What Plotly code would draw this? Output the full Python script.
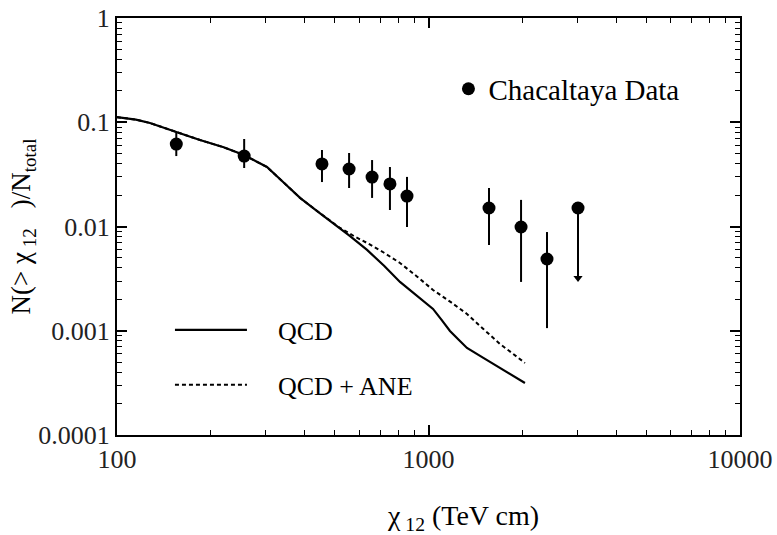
import plotly.graph_objects as go

# Chacaltaya data points (x in TeV cm, y = N(>x)/Ntotal)
data_x = [155, 256, 455, 556, 659, 752, 853, 1564, 1982, 2401, 3020]
data_y = [0.0618, 0.0474, 0.0398, 0.0356, 0.0298, 0.0256, 0.0196, 0.01505, 0.00989, 0.00488, 0.01505]
err_hi = [0.0806, 0.0691, 0.0542, 0.0507, 0.0434, 0.0372, 0.0299, 0.0234, 0.0180, 0.00885, 0.01505]
err_lo = [0.0474, 0.0364, 0.0267, 0.0234, 0.0188, 0.0144, 0.00989, 0.00664, 0.00294, 0.00106, 0.00321]

# upper-limit arrow for last point
limit_x = [3020]
limit_y = [0.00321]

# QCD curve
qcd_x = [100, 115, 127.6, 140, 154.7, 170, 184.7, 220, 255.7, 303, 340, 387, 440, 494, 560, 635, 720,
         810, 920, 1034, 1100, 1172, 1250, 1329, 1500, 1696, 1870, 2040]
qcd_y = [0.112, 0.106, 0.0984, 0.090, 0.0806, 0.0735, 0.0676, 0.0575, 0.0485, 0.0372, 0.0270, 0.0188,
         0.0140, 0.0108, 0.0081, 0.00596, 0.0042, 0.00294, 0.00215, 0.00162, 0.00128, 0.000995,
         0.00082, 0.000684, 0.00055, 0.000440, 0.000370, 0.000315]

# QCD + ANE curve
ane_x = [100, 115, 127.6, 140, 154.7, 170, 184.7, 220, 255.7, 303, 340, 387, 440, 494, 520, 580, 635,
         720, 810, 920, 1034, 1180, 1329, 1500, 1696, 1870, 2040]
ane_y = [0.112, 0.106, 0.0984, 0.090, 0.0806, 0.0735, 0.0676, 0.0575, 0.0485, 0.0372, 0.0270, 0.0188,
         0.0140, 0.0108, 0.00968, 0.0080, 0.00695, 0.0056, 0.00447, 0.0033, 0.00246, 0.00188,
         0.00145, 0.00104, 0.000746, 0.00060, 0.000491]

x_ticks = [100, 1000, 10000]
x_ticktext = ["100", "1000", "10000"]
y_ticks = [0.0001, 0.001, 0.01, 0.1, 1]
y_ticktext = ["0.0001", "0.001", "0.01", "0.1", "1"]

x_title = "χ<sub> 12</sub> (TeV cm)"
y_title = "N(> χ<sub> 12</sub>\u00a0\u00a0\u00a0)/N<sub>total</sub>"

FONT = "Liberation Serif"

fig = go.Figure()

fig.add_trace(go.Scatter(
    x=qcd_x, y=qcd_y, mode="lines", name="\u00a0\u00a0\u00a0\u00a0QCD",
    line=dict(color="black", width=2.2),
    legend="legend2", legendgroup="a",
))
fig.add_trace(go.Scatter(
    x=ane_x, y=ane_y, mode="lines", name="\u00a0\u00a0\u00a0\u00a0QCD + ANE",
    line=dict(color="black", width=2, dash="4px,3px"),
    legend="legend2", legendgroup="b",
))

err_plus = [h - y for h, y in zip(err_hi, data_y)]
err_minus = [y - l for l, y in zip(err_lo, data_y)]

fig.add_trace(go.Scatter(
    x=data_x, y=data_y, mode="markers", name="Chacaltaya Data",
    marker=dict(color="black", size=13, symbol="circle"),
    error_y=dict(type="data", symmetric=False, array=err_plus, arrayminus=err_minus,
                 color="black", thickness=2, width=0),
    legend="legend",
))
fig.add_trace(go.Scatter(
    x=limit_x, y=limit_y, mode="markers", showlegend=False,
    marker=dict(color="black", size=8, symbol="triangle-down"),
))

axis_common = dict(
    type="log", showline=True, linecolor="black", linewidth=2, mirror="ticks",
    ticks="inside", ticklen=10, tickwidth=1.5, tickcolor="black",
    showgrid=False, zeroline=False, automargin=False, ticklabeloverflow="allow",
    tickfont=dict(family=FONT, size=26, color="#222"),
    minor=dict(ticks="inside", ticklen=5, tickwidth=1, tickcolor="black", dtick="D1", showgrid=False),
)

fig.update_xaxes(**axis_common, range=[2, 4], tickvals=x_ticks, ticktext=x_ticktext)
fig.update_yaxes(
    **axis_common, range=[-4, 0], tickvals=y_ticks, ticktext=y_ticktext,
    title=dict(text=y_title, font=dict(family=FONT, size=27, color="black"), standoff=0),
)

fig.add_annotation(
    text=x_title, xref="paper", yref="paper", x=0.555, y=0, yshift=-82,
    xanchor="center", yanchor="middle", showarrow=False,
    font=dict(family=FONT, size=28, color="black"),
)

fig.update_layout(
    width=777, height=535,
    margin=dict(l=117, r=37, t=18, b=100),
    paper_bgcolor="white", plot_bgcolor="white",
    font=dict(family=FONT, color="black"),
    legend=dict(x=0.532, y=0.83, xanchor="left", yanchor="middle",
                bgcolor="rgba(0,0,0,0)", font=dict(family=FONT, size=29, color="black")),
    legend2=dict(x=0.085, y=0.186, xanchor="left", yanchor="middle", tracegroupgap=18,
                 itemwidth=72,
                 bgcolor="rgba(0,0,0,0)", font=dict(family=FONT, size=26, color="black")),
)

fig.write_html("out.html", config={"displayModeBar": False},
               post_script="document.body.style.margin='0px';")
